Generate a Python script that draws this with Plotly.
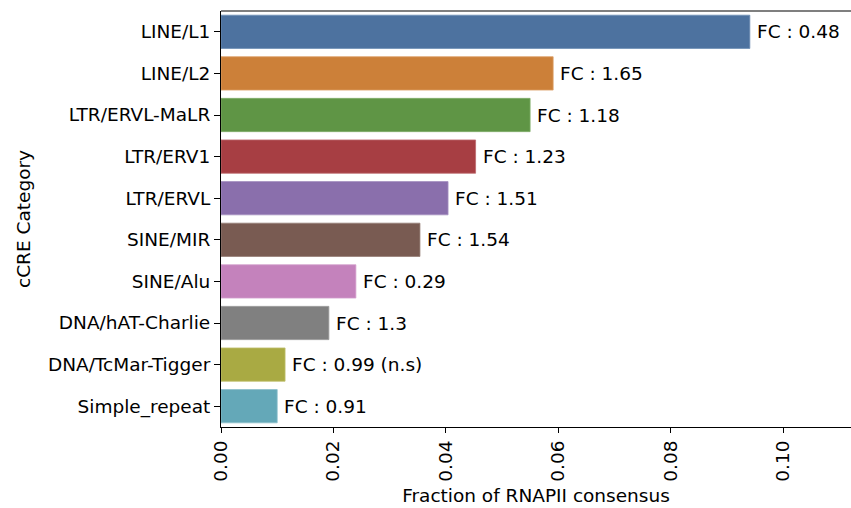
import plotly.graph_objects as go

categories = ["LINE/L1", "LINE/L2", "LTR/ERVL-MaLR", "LTR/ERV1", "LTR/ERVL",
              "SINE/MIR", "SINE/Alu", "DNA/hAT-Charlie", "DNA/TcMar-Tigger", "Simple_repeat"]
fractions = [0.0941, 0.0591, 0.0550, 0.0453, 0.0404, 0.0354, 0.0240, 0.0192, 0.0114, 0.0100]
fc_labels = ["FC : 0.48", "FC : 1.65", "FC : 1.18", "FC : 1.23", "FC : 1.51",
             "FC : 1.54", "FC : 0.29", "FC : 1.3", "FC : 0.99 (n.s)", "FC : 0.91"]
colors = ["#4d729f", "#cc8039", "#5f9545", "#a73e43", "#8a6fac",
          "#795b52", "#c482bc", "#808080", "#a9aa43", "#64a8b8"]
edge_colors = ["#6f8fb5", "#dc9e66", "#80ad6b", "#bd6a6e", "#a590c0",
               "#957d76", "#d3a0cd", "#a0a0a0", "#bfc06e", "#8cbfcb"]
x_ticks = [0.00, 0.02, 0.04, 0.06, 0.08, 0.10]

FONT = "DejaVu Sans"
FS = 18.5

fig = go.Figure()
fig.add_trace(go.Bar(
    x=fractions, y=categories, orientation="h",
    marker=dict(color=colors, line=dict(color=edge_colors, width=0.8)),
    width=0.8, showlegend=False, hoverinfo="skip",
))

for c, v, t in zip(categories, fractions, fc_labels):
    fig.add_annotation(x=v, y=c, xref="x", yref="y", text=t, showarrow=False,
                       xanchor="left", yanchor="middle", xshift=5,
                       font=dict(family=FONT, size=FS, color="black"))

# top spine (right spine falls outside the cropped picture)
fig.add_shape(type="line", xref="paper", yref="paper", x0=0, x1=1, y0=1, y1=1,
              line=dict(color="black", width=1.1))

fig.update_layout(
    width=851, height=508,
    margin=dict(l=220.5, r=0, t=10.8, b=81.2, autoexpand=False),
    plot_bgcolor="white", paper_bgcolor="white",
    font=dict(family=FONT, size=FS, color="black"),
    bargap=0.2,
    xaxis=dict(
        range=[0, 0.1121], tickvals=x_ticks, tickformat=".2f", tickangle=-90,
        showgrid=False, zeroline=False, showline=True, linecolor="black", linewidth=1.1,
        ticks="outside", ticklen=5, tickwidth=1.1, tickcolor="black",
        title=dict(text="Fraction of RNAPII consensus", standoff=8,
                   font=dict(family=FONT, size=FS)),
        tickfont=dict(family=FONT, size=FS),
    ),
    yaxis=dict(
        categoryorder="array", categoryarray=categories,
        range=[9.5, -0.5],
        showgrid=False, zeroline=False, showline=True, linecolor="black", linewidth=1.1,
        ticks="outside", ticklen=6, tickwidth=1.1, tickcolor="black",
        title=dict(text="cCRE Category", standoff=12, font=dict(family=FONT, size=FS)),
        tickfont=dict(family=FONT, size=FS),
    ),
)

fig.write_html("out.html", config={"displayModeBar": False})

with open("out.html", "r", encoding="utf-8") as f:
    html = f.read()
html = html.replace("<head>", "<head><style>html,body{margin:0;padding:0;overflow:hidden}</style>", 1)
with open("out.html", "w", encoding="utf-8") as f:
    f.write(html)
